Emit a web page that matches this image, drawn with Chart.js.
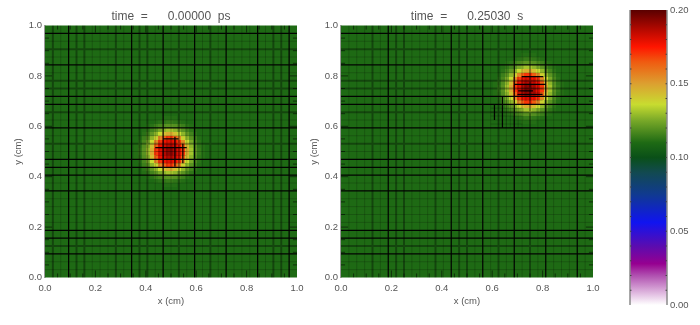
<!DOCTYPE html>
<html>
<head>
<meta charset="utf-8">
<style>
html, body { margin: 0; background: #fff; }
canvas { position: absolute; top: 0; }
</style>
<script src="https://cdn.jsdelivr.net/npm/chart.js@4"></script>
</head>
<body>
<canvas id="left" width="320" height="325" style="left:0"></canvas>
<canvas id="right" width="320" height="325" style="left:296px"></canvas>
<canvas id="bar" width="100" height="325" style="left:600px"></canvas>
<script>
// colour table: value, colour
const colorValues = [0, 0.01, 0.02, 0.028, 0.04, 0.056, 0.075, 0.09, 0.1, 0.11, 0.125, 0.136, 0.15, 0.165, 0.175, 0.185, 0.2];
const colorStops = ["#ffffff", "#d8a8d8", "#b050b0", "#960090", "#5a0cb0", "#1014f0", "#103a90", "#124a50", "#0a5018", "#1e6a14", "#78a828", "#c8dc30", "#dca030", "#f05a10", "#ff1500", "#c00a00", "#5a0000"];

const backgroundValue = 0.11;

// density around the pulse, in 1/1000, on a 1/64 cell mesh
const blobValues = [
  [110,110,110,110,110,110,110,110,110,110,110,110,110,110,110,110,110,110,110,110],
  [110,110,110,110,110,110,110,110,111,111,111,111,110,110,110,110,110,110,110,110],
  [110,110,110,110,110,110,111,112,113,114,114,113,112,111,110,110,110,110,110,110],
  [110,110,110,110,111,112,115,117,119,120,120,119,117,115,112,111,110,110,110,110],
  [110,110,110,111,113,116,120,125,128,131,131,128,125,120,116,113,111,110,110,110],
  [110,110,110,112,116,121,128,136,143,147,147,143,136,128,121,116,112,110,110,110],
  [110,110,111,115,120,128,139,155,164,170,170,164,155,139,128,120,115,111,110,110],
  [110,110,112,117,125,136,155,170,177,180,180,177,170,155,136,125,117,112,110,110],
  [110,111,113,119,128,143,164,177,183,187,187,183,177,164,143,128,119,113,111,110],
  [110,111,114,120,131,147,170,180,187,192,192,187,180,170,147,131,120,114,111,110],
  [110,111,114,120,131,147,170,180,187,192,192,187,180,170,147,131,120,114,111,110],
  [110,111,113,119,128,143,164,177,183,187,187,183,177,164,143,128,119,113,111,110],
  [110,110,112,117,125,136,155,170,177,180,180,177,170,155,136,125,117,112,110,110],
  [110,110,111,115,120,128,139,155,164,170,170,164,155,139,128,120,115,111,110,110],
  [110,110,110,112,116,121,128,136,143,147,147,143,136,128,121,116,112,110,110,110],
  [110,110,110,111,113,116,120,125,128,131,131,128,125,120,116,113,111,110,110,110],
  [110,110,110,110,111,112,115,117,119,120,120,119,117,115,112,111,110,110,110,110],
  [110,110,110,110,110,110,111,112,113,114,114,113,112,111,110,110,110,110,110,110],
  [110,110,110,110,110,110,110,110,111,111,111,111,110,110,110,110,110,110,110,110],
  [110,110,110,110,110,110,110,110,110,110,110,110,110,110,110,110,110,110,110,110]
];

// mesh line darkness on the 1/32 grid (k = 1..31): 0 faint, 1 soft, 2 black
const leftVertical  = [1,0,2,1,1,0,0,0,1,0,2,1,1,0,2,0,1,0,2,0,1,0,2,0,0,0,2,0,1,1,2];
const rightVertical = [0,0,0,1,0,2,1,1,0,0,0,1,0,2,1,1,0,2,0,1,0,2,0,1,0,2,0,0,0,2,0];
const horizontal    = [2,0,1,0,2,0,1,1,2,2,1,0,2,0,1,0,2,2,2,0,2,0,0,0,0,2,2,1,2,0,0];

// refined patches: x1, y1, x2, y2, darkness
const leftFine = [
  [0.5156,0.44,0.5156,0.559,2], [0.547,0.453,0.547,0.531,2], [0.4375,0.5156,0.5625,0.5156,2], [0.47,0.55,0.53,0.55,2],
  [0.453,0.44,0.453,0.56,0], [0.484,0.44,0.484,0.56,0], [0.5,0.44,0.5,0.56,0],
  [0.44,0.453,0.56,0.453,0], [0.44,0.484,0.56,0.484,0], [0.44,0.5,0.56,0.5,0]
];
const rightFine = [
  [0.6406,0.594,0.6406,0.719,2], [0.609,0.625,0.609,0.6875,2],
  [0.717,0.797,0.803,0.797,2], [0.687,0.766,0.81,0.766,2], [0.70,0.727,0.80,0.727,2], [0.703,0.741,0.762,0.741,2],
  [0.703,0.70,0.703,0.80,0], [0.719,0.70,0.719,0.80,0], [0.734,0.70,0.734,0.80,0], [0.75,0.70,0.75,0.80,0], [0.766,0.70,0.766,0.80,0], [0.781,0.70,0.781,0.80,0],
  [0.70,0.703,0.80,0.703,0], [0.70,0.719,0.80,0.719,0], [0.70,0.734,0.80,0.734,0], [0.70,0.75,0.80,0.75,0], [0.70,0.781,0.80,0.781,0],
  [0.594,0.656,0.72,0.656,0], [0.594,0.672,0.72,0.672,0], [0.594,0.641,0.72,0.641,0], [0.594,0.609,0.72,0.609,0], [0.609,0.594,0.72,0.594,0],
  [0.656,0.594,0.656,0.719,0], [0.672,0.594,0.672,0.719,0], [0.625,0.594,0.625,0.719,0], [0.688,0.594,0.688,0.719,0], [0.703,0.594,0.703,0.70,0]
];

const tickValues = [0.05,0.1,0.15,0.2,0.25,0.3,0.35,0.4,0.45,0.5,0.55,0.6,0.65,0.7,0.75,0.8,0.85,0.9,0.95];
const majorTicks = [0.2,0.4,0.6,0.8];
const barTicks = [0.01,0.02,0.03,0.04,0.05,0.06,0.07,0.08,0.09,0.1,0.11,0.12,0.13,0.14,0.15,0.16,0.17,0.18,0.19];

const TEXT = "#555";
const FONT = "'Liberation Sans', sans-serif";
Chart.defaults.animation = false;
Chart.defaults.responsive = false;
Chart.defaults.font.family = FONT;

const hex = (c) => [1, 3, 5].map((i) => parseInt(c.slice(i, i + 2), 16));

function valueColor(v) {
    let i = 1;
    while (i < colorValues.length - 1 && v > colorValues[i]) i++;
    const t = (v - colorValues[i - 1]) / (colorValues[i] - colorValues[i - 1]);
    const a = hex(colorStops[i - 1]), b = hex(colorStops[i]);
    return `rgb(${a.map((p, n) => Math.round(p + (b[n] - p) * t)).join(",")})`;
}

// paints the density cells behind the mesh through the chart scales
const heatPlugin = {
    id: "heat",
    beforeDatasetsDraw(chart, args, opts) {
        const { ctx, chartArea: a, scales: { x, y } } = chart;
        ctx.save();
        ctx.fillStyle = valueColor(backgroundValue);
        ctx.fillRect(a.left, a.top, a.width, a.height);
        blobValues.forEach((row, j) => row.forEach((v, i) => {
            const x0 = Math.round(x.getPixelForValue(opts.originX + i / 64));
            const x1 = Math.round(x.getPixelForValue(opts.originX + (i + 1) / 64));
            const y0 = Math.round(y.getPixelForValue(opts.originY + (j + 1) / 64));
            const y1 = Math.round(y.getPixelForValue(opts.originY + j / 64));
            ctx.fillStyle = valueColor(v / 1000);
            ctx.fillRect(x0, y0, x1 - x0, y1 - y0);
        }));
        ctx.restore();
    }
};

// faint, soft, black mesh lines, then axis tick marks
const LINE_STYLES = [
    { color: "rgba(0,0,0,0.18)", width: 1 },
    { color: "rgba(0,0,0,0.34)", width: 2 },
    { color: "rgba(0,0,0,0.97)", width: 1.25 },
    { color: "rgba(0,0,0,0.55)", width: 1 }
];

function meshDatasets(vertical, fine) {
    const groups = [[], [], [], []];
    const add = (x1, y1, x2, y2, level) => groups[level].push({ x: x1, y: y1 }, { x: x2, y: y2 }, { x: NaN, y: NaN });
    vertical.forEach((level, k) => add((k + 1) / 32, 0, (k + 1) / 32, 1, level));
    horizontal.forEach((level, k) => add(0, 1 - (k + 1) / 32, 1, 1 - (k + 1) / 32, level));
    fine.forEach((s) => add(s[0], s[1], s[2], s[3], s[4]));
    tickValues.forEach((v) => {
        const len = majorTicks.includes(v) ? 0.028 : 0.016;
        add(v, 0, v, len, 3); add(v, 1 - len, v, 1, 3);
        add(0, v, len, v, 3); add(1 - len, v, 1, v, 3);
    });
    return groups.map((data, level) => ({
        type: "scatter", data, showLine: true, spanGaps: false, pointRadius: 0,
        borderColor: LINE_STYLES[level].color, borderWidth: LINE_STYLES[level].width
    }));
}

function axisFit(size) {
    return (scale) => {
        if (scale.isHorizontal()) { scale.height = size; scale.paddingLeft = 0; scale.paddingRight = 0; }
        else { scale.width = size; scale.paddingTop = 0; scale.paddingBottom = 0; }
    };
}

function panel(id, titleText, vertical, fine, originX, originY) {
    const ticks = {
        stepSize: 0.2, color: TEXT, font: { size: 9.5 }, maxRotation: 0, autoSkip: false,
        callback: (v) => v.toFixed(1)
    };
    return new Chart(document.getElementById(id), {
        type: "scatter",
        data: { datasets: meshDatasets(vertical, fine) },
        plugins: [heatPlugin],
        options: {
            layout: { padding: { left: 0, top: 0, right: 23, bottom: 0 } },
            plugins: {
                legend: { display: false },
                tooltip: { enabled: false },
                heat: { originX, originY },
                title: {
                    display: true, text: titleText, color: TEXT, fullSize: false,
                    font: { size: 12, weight: "normal", lineHeight: 1.2 },
                    padding: { top: 9, bottom: 2.1 }
                }
            },
            scales: {
                x: {
                    type: "linear", min: 0, max: 1, afterFit: axisFit(47.5),
                    grid: { display: false, drawTicks: false }, border: { display: false },
                    ticks: { ...ticks, padding: 5 },
                    title: { display: true, text: "x (cm)", color: TEXT, font: { size: 9.5 }, padding: { top: 0, bottom: 18 } }
                },
                y: {
                    type: "linear", min: 0, max: 1, afterFit: axisFit(45),
                    grid: { display: false, drawTicks: false }, border: { display: true, color: "#9a9a9a", width: 1.5 },
                    ticks: { ...ticks, padding: 3 },
                    title: { display: true, text: "y (cm)", color: TEXT, font: { size: 9.5 }, padding: { top: 13, bottom: 0 } }
                }
            }
        }
    });
}

panel("left", "time  =      0.00000  ps", leftVertical, leftFine, 0.338, 0.34375);
panel("right", "time  =      0.25030  s", rightVertical, rightFine, 0.5875, 0.59375);

// gray sides and small ticks of the colour bar
const barFrame = {
    id: "barFrame",
    afterDatasetsDraw(chart) {
        const { ctx, chartArea: a, scales: { y } } = chart;
        ctx.save();
        ctx.strokeStyle = "#8a8a8a";
        ctx.lineWidth = 1.5;
        ctx.beginPath();
        ctx.moveTo(a.left, a.top); ctx.lineTo(a.left, a.bottom);
        ctx.moveTo(a.right, a.top); ctx.lineTo(a.right, a.bottom);
        ctx.stroke();
        ctx.strokeStyle = "#444";
        ctx.lineWidth = 1;
        ctx.beginPath();
        barTicks.forEach((v) => {
            const p = y.getPixelForValue(v);
            ctx.moveTo(a.left, p); ctx.lineTo(a.left + 1.5, p);
            ctx.moveTo(a.right - 1.5, p); ctx.lineTo(a.right, p);
        });
        ctx.stroke();
        ctx.restore();
    }
};

function barGradient(context) {
    const chart = context.chart;
    if (!chart.chartArea) return colorStops[0];
    const y = chart.scales.y;
    const g = chart.ctx.createLinearGradient(0, y.getPixelForValue(0), 0, y.getPixelForValue(0.2));
    colorValues.forEach((v, i) => g.addColorStop(v / 0.2, colorStops[i]));
    return g;
}

new Chart(document.getElementById("bar"), {
    type: "bar",
    data: {
        labels: [""],
        datasets: [{ data: [[0, 0.2]], backgroundColor: barGradient, borderWidth: 0, categoryPercentage: 1, barPercentage: 1 }]
    },
    plugins: [barFrame],
    options: {
        layout: { padding: { left: 30, top: 10, right: 0, bottom: 20 } },
        plugins: { legend: { display: false }, tooltip: { enabled: false } },
        scales: {
            x: { display: false, grid: { display: false } },
            y: {
                position: "right", min: 0, max: 0.2, afterFit: axisFit(33),
                grid: { display: false, drawTicks: false }, border: { display: false },
                ticks: { stepSize: 0.05, color: TEXT, padding: 3, font: { size: 9.5 }, callback: (v) => v.toFixed(2) }
            }
        }
    }
});
</script>
</body>
</html>
